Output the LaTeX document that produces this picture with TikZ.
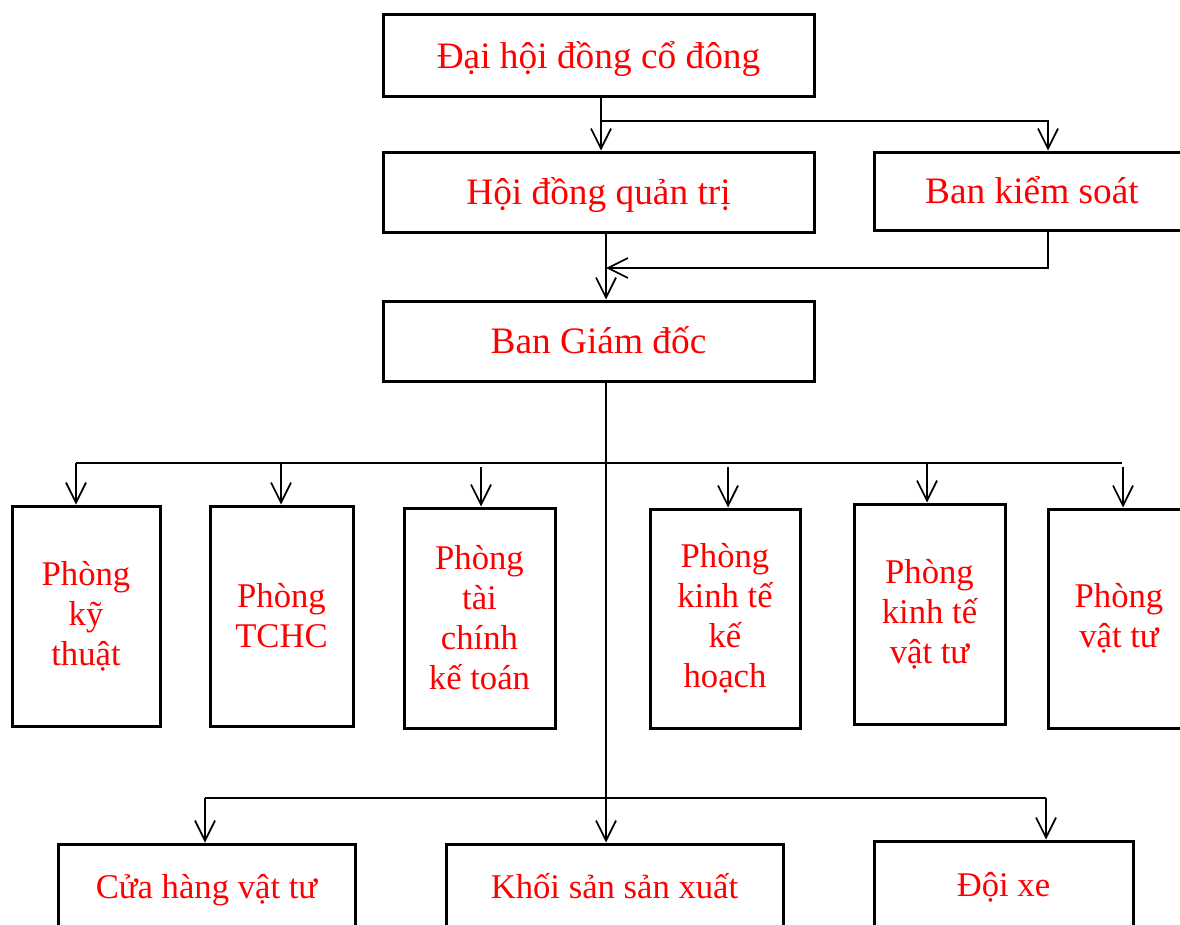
\documentclass[tikz,border=0pt]{standalone}
\usepackage{fontspec}
\setmainfont{Liberation Serif}
\usetikzlibrary{arrows.meta}
\newdimen\upx \upx=0.75pt
\begin{document}
\begin{tikzpicture}[x=\upx,y=-\upx,
  box/.style={draw, line width=3\upx, inner sep=0pt, text=red, align=center,
    font=\fontsize{26pt}{30pt}\selectfont},
  big/.style={font=\fontsize{28pt}{32pt}\selectfont, text height=26pt, text depth=7pt},
  unit/.style={text height=23pt, text depth=6.5pt},
  conn/.style={line width=1.3pt},
  arr/.style={conn, -{Straight Barb[length=15pt,width=15pt]}}]
\useasboundingbox (0,0) rectangle (1180,924);
\clip (0,0) rectangle (1180,924);

% management levels
\node[box, big, minimum width=431\upx, minimum height=81\upx] (dhcd) at (598.5,55.5) {Đại hội đồng cổ đông};
\node[box, big, minimum width=431\upx, minimum height=80\upx] (hdqt) at (598.5,192) {Hội đồng quản trị};
\node[box, big, minimum width=316\upx, minimum height=78\upx] (bks) at (1032,191) {Ban kiểm soát};
\node[box, big, minimum width=431\upx, minimum height=80\upx] (bgd) at (598.5,341) {Ban Giám đốc};

% departments
\node[box, minimum width=148\upx, minimum height=220\upx] (d1) at (86,616) {Phòng\\kỹ\\thuật};
\node[box, minimum width=143\upx, minimum height=220\upx] (d2) at (281.5,616) {Phòng\\TCHC};
\node[box, minimum width=151\upx, minimum height=220\upx] (d3) at (479.5,618) {Phòng\\tài\\chính\\kế toán};
\node[box, minimum width=150\upx, minimum height=219\upx] (d4) at (725,618.5) {Phòng\\kinh tế\\kế\\hoạch};
\node[box, minimum width=151\upx, minimum height=220\upx] (d5) at (929.5,614) {Phòng\\kinh tế\\vật tư};
\node[box, minimum width=142\upx, minimum height=219\upx] (d6) at (1119,618.5) {Phòng\\vật tư};

% operating units
\node[box, unit, minimum width=297\upx, minimum height=86\upx] (b1) at (206.5,887) {Cửa hàng vật tư};
\node[box, unit, minimum width=337\upx, minimum height=86\upx] (b2) at (614.5,887) {Khối sản sản xuất};
\node[box, unit, minimum width=259\upx, minimum height=88\upx] (b3) at (1003.5,885) {Đội xe};

% connectors between the top levels
\coordinate (j1) at (601,121);
\coordinate (k1) at (1048,121);
\draw[arr] (j1 |- dhcd.south) -- (j1 |- hdqt.north);
\draw[arr] (j1) -- (k1) -- (k1 |- bks.north);

\coordinate (j2) at (606,268);
\coordinate (k2) at (1048,268);
\draw[arr] (j2 |- hdqt.south) -- (j2 |- bgd.north);
\draw[arr] (k2 |- bks.south) -- (k2) -- (j2);

% main spine from the board of directors
\draw[arr] (j2 |- bgd.south) -- (j2 |- b2.north);

% department bus
\coordinate (p1) at (76,463);
\coordinate (p2) at (281,463);
\coordinate (p3) at (481,467);
\coordinate (p4) at (728,467);
\coordinate (p5) at (927,463);
\coordinate (p6) at (1123,467);
\draw[conn] (p1) -- (1122,463);
\draw[arr] (p1) -- (p1 |- d1.north);
\draw[arr] (p2) -- (p2 |- d2.north);
\draw[arr] (p3) -- (p3 |- d3.north);
\draw[arr] (p4) -- (p4 |- d4.north);
\draw[arr] (p5) -- (p5 |- d5.north);
\draw[arr] (p6) -- (p6 |- d6.north);

% operating-unit bus
\coordinate (q1) at (205,798);
\coordinate (q3) at (1046,798);
\draw[conn] (q1) -- (q3);
\draw[arr] (q1) -- (q1 |- b1.north);
\draw[arr] (q3) -- (q3 |- b3.north);
\end{tikzpicture}
\end{document}
